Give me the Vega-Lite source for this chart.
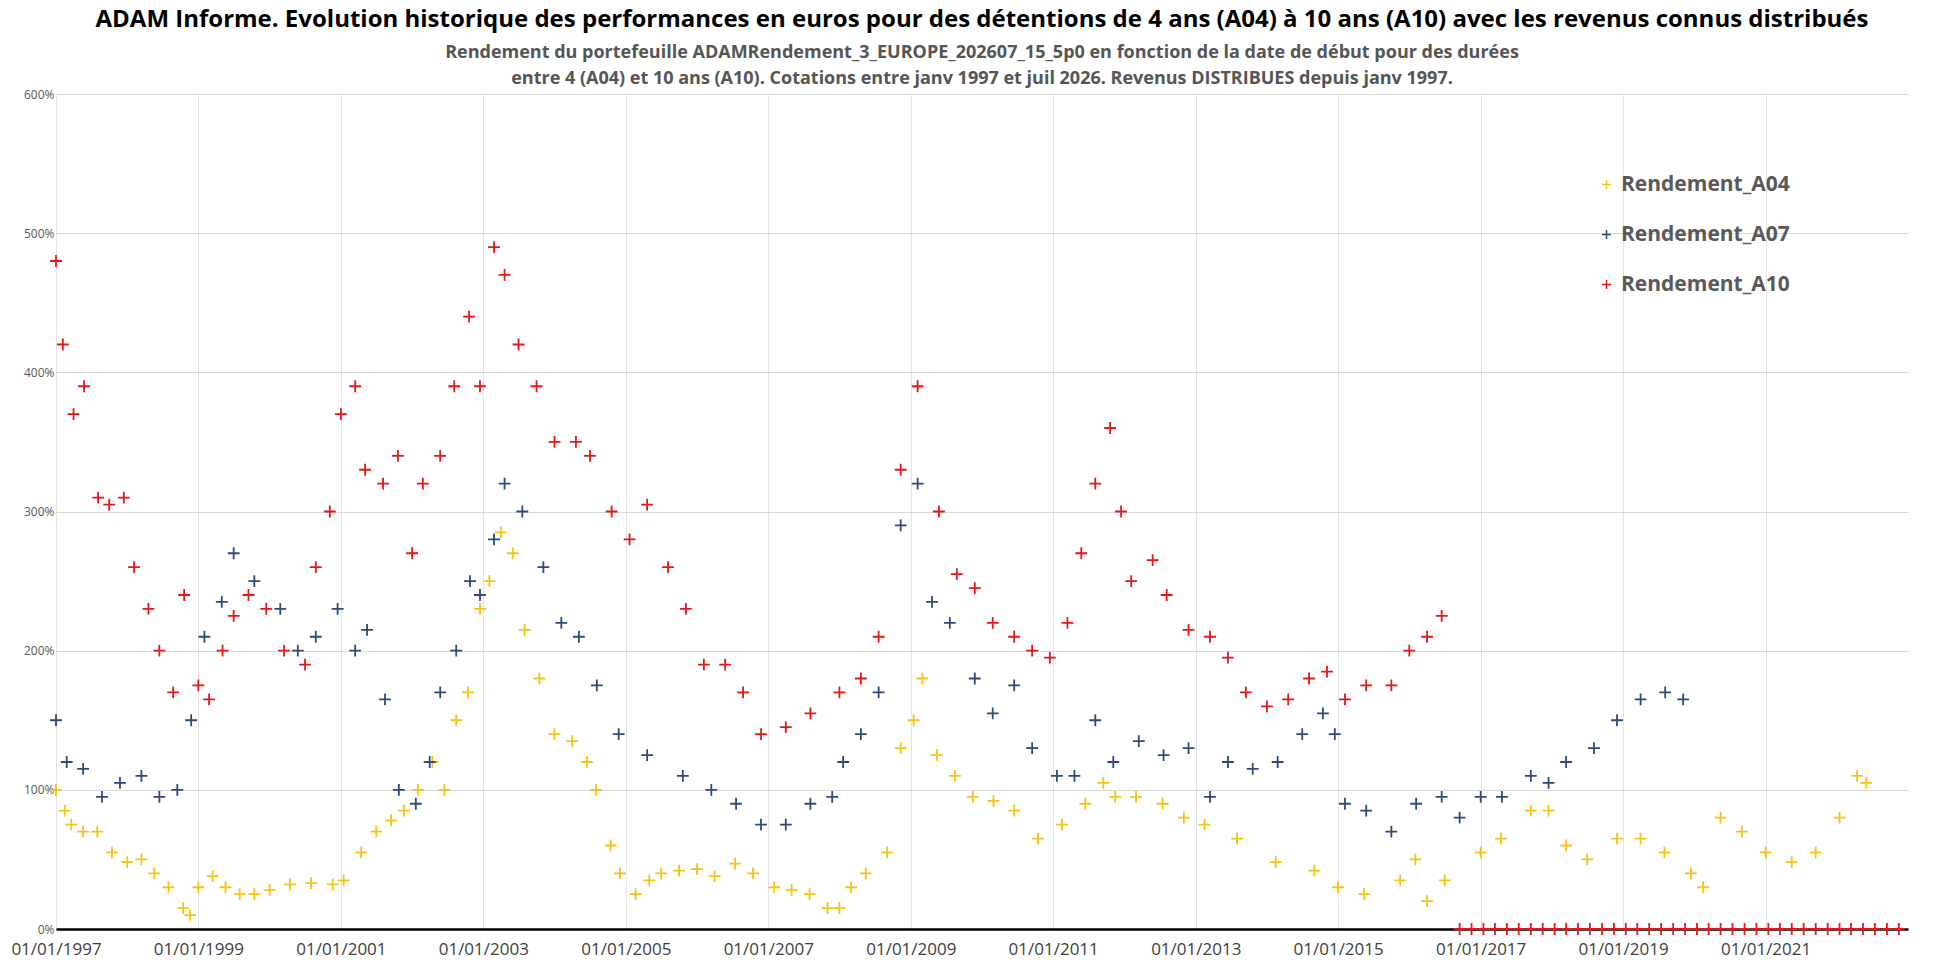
{
  "$schema": "https://vega.github.io/schema/vega-lite/v6.json",
  "width": 1958,
  "height": 979,
  "autosize": {"type": "fit", "contains": "padding"},
  "padding": {"left": 10, "top": 8, "right": 50, "bottom": 22},
  "background": "white",
  "title": {
    "text": "ADAM Informe. Evolution historique des performances en euros pour des détentions de 4 ans (A04) à 10 ans (A10) avec les revenus connus distribués",
    "subtitle": ["Rendement du portefeuille ADAMRendement_3_EUROPE_202607_15_5p0  en fonction de la date de début pour des durées", "entre 4 (A04) et 10 ans (A10). Cotations entre janv 1997 et juil 2026. Revenus DISTRIBUES depuis janv 1997."],
    "anchor": "middle",
    "font": "Open Sans",
    "fontSize": 24,
    "fontWeight": "bold",
    "color": "black",
    "subtitleFont": "Open Sans",
    "subtitleFontSize": 18,
    "subtitleFontWeight": "bold",
    "subtitleColor": "#555555",
    "subtitleLineHeight": 26,
    "subtitlePadding": 12,
    "offset": 0
  },
  "data": {
    "values": [
      {"d": "1997-01-01", "s": "Rendement_A04", "v": 100},
      {"d": "1997-02-15", "s": "Rendement_A04", "v": 85},
      {"d": "1997-03-20", "s": "Rendement_A04", "v": 75},
      {"d": "1997-05-20", "s": "Rendement_A04", "v": 70},
      {"d": "1997-08-01", "s": "Rendement_A04", "v": 70},
      {"d": "1997-10-15", "s": "Rendement_A04", "v": 55},
      {"d": "1998-01-01", "s": "Rendement_A04", "v": 48},
      {"d": "1998-03-15", "s": "Rendement_A04", "v": 50},
      {"d": "1998-05-20", "s": "Rendement_A04", "v": 40},
      {"d": "1998-08-01", "s": "Rendement_A04", "v": 30},
      {"d": "1998-10-15", "s": "Rendement_A04", "v": 15},
      {"d": "1998-11-20", "s": "Rendement_A04", "v": 10},
      {"d": "1999-01-01", "s": "Rendement_A04", "v": 30},
      {"d": "1999-03-15", "s": "Rendement_A04", "v": 38},
      {"d": "1999-05-20", "s": "Rendement_A04", "v": 30},
      {"d": "1999-08-01", "s": "Rendement_A04", "v": 25},
      {"d": "1999-10-15", "s": "Rendement_A04", "v": 25},
      {"d": "2000-01-01", "s": "Rendement_A04", "v": 28},
      {"d": "2000-04-15", "s": "Rendement_A04", "v": 32},
      {"d": "2000-08-01", "s": "Rendement_A04", "v": 33},
      {"d": "2000-11-20", "s": "Rendement_A04", "v": 32},
      {"d": "2001-01-15", "s": "Rendement_A04", "v": 35},
      {"d": "2001-04-15", "s": "Rendement_A04", "v": 55},
      {"d": "2001-07-01", "s": "Rendement_A04", "v": 70},
      {"d": "2001-09-15", "s": "Rendement_A04", "v": 78},
      {"d": "2001-11-20", "s": "Rendement_A04", "v": 85},
      {"d": "2002-02-01", "s": "Rendement_A04", "v": 100},
      {"d": "2002-04-15", "s": "Rendement_A04", "v": 120},
      {"d": "2002-06-15", "s": "Rendement_A04", "v": 100},
      {"d": "2002-08-15", "s": "Rendement_A04", "v": 150},
      {"d": "2002-10-15", "s": "Rendement_A04", "v": 170},
      {"d": "2002-12-15", "s": "Rendement_A04", "v": 230},
      {"d": "2003-02-01", "s": "Rendement_A04", "v": 250},
      {"d": "2003-04-01", "s": "Rendement_A04", "v": 285},
      {"d": "2003-06-01", "s": "Rendement_A04", "v": 270},
      {"d": "2003-08-01", "s": "Rendement_A04", "v": 215},
      {"d": "2003-10-15", "s": "Rendement_A04", "v": 180},
      {"d": "2004-01-01", "s": "Rendement_A04", "v": 140},
      {"d": "2004-04-01", "s": "Rendement_A04", "v": 135},
      {"d": "2004-06-15", "s": "Rendement_A04", "v": 120},
      {"d": "2004-08-01", "s": "Rendement_A04", "v": 100},
      {"d": "2004-10-15", "s": "Rendement_A04", "v": 60},
      {"d": "2004-12-01", "s": "Rendement_A04", "v": 40},
      {"d": "2005-02-20", "s": "Rendement_A04", "v": 25},
      {"d": "2005-05-01", "s": "Rendement_A04", "v": 35},
      {"d": "2005-07-01", "s": "Rendement_A04", "v": 40},
      {"d": "2005-10-01", "s": "Rendement_A04", "v": 42},
      {"d": "2006-01-01", "s": "Rendement_A04", "v": 43},
      {"d": "2006-04-01", "s": "Rendement_A04", "v": 38},
      {"d": "2006-07-15", "s": "Rendement_A04", "v": 47},
      {"d": "2006-10-15", "s": "Rendement_A04", "v": 40},
      {"d": "2007-02-01", "s": "Rendement_A04", "v": 30},
      {"d": "2007-05-01", "s": "Rendement_A04", "v": 28},
      {"d": "2007-08-01", "s": "Rendement_A04", "v": 25},
      {"d": "2007-11-01", "s": "Rendement_A04", "v": 15},
      {"d": "2008-01-01", "s": "Rendement_A04", "v": 15},
      {"d": "2008-03-01", "s": "Rendement_A04", "v": 30},
      {"d": "2008-05-15", "s": "Rendement_A04", "v": 40},
      {"d": "2008-09-01", "s": "Rendement_A04", "v": 55},
      {"d": "2008-11-10", "s": "Rendement_A04", "v": 130},
      {"d": "2009-01-15", "s": "Rendement_A04", "v": 150},
      {"d": "2009-03-01", "s": "Rendement_A04", "v": 180},
      {"d": "2009-05-15", "s": "Rendement_A04", "v": 125},
      {"d": "2009-08-15", "s": "Rendement_A04", "v": 110},
      {"d": "2009-11-15", "s": "Rendement_A04", "v": 95},
      {"d": "2010-03-01", "s": "Rendement_A04", "v": 92},
      {"d": "2010-06-15", "s": "Rendement_A04", "v": 85},
      {"d": "2010-10-15", "s": "Rendement_A04", "v": 65},
      {"d": "2011-02-15", "s": "Rendement_A04", "v": 75},
      {"d": "2011-06-15", "s": "Rendement_A04", "v": 90},
      {"d": "2011-09-15", "s": "Rendement_A04", "v": 105},
      {"d": "2011-11-15", "s": "Rendement_A04", "v": 95},
      {"d": "2012-03-01", "s": "Rendement_A04", "v": 95},
      {"d": "2012-07-15", "s": "Rendement_A04", "v": 90},
      {"d": "2012-11-01", "s": "Rendement_A04", "v": 80},
      {"d": "2013-02-15", "s": "Rendement_A04", "v": 75},
      {"d": "2013-08-01", "s": "Rendement_A04", "v": 65},
      {"d": "2014-02-15", "s": "Rendement_A04", "v": 48},
      {"d": "2014-09-01", "s": "Rendement_A04", "v": 42},
      {"d": "2015-01-01", "s": "Rendement_A04", "v": 30},
      {"d": "2015-05-15", "s": "Rendement_A04", "v": 25},
      {"d": "2015-11-15", "s": "Rendement_A04", "v": 35},
      {"d": "2016-02-01", "s": "Rendement_A04", "v": 50},
      {"d": "2016-04-01", "s": "Rendement_A04", "v": 20},
      {"d": "2016-07-01", "s": "Rendement_A04", "v": 35},
      {"d": "2017-01-01", "s": "Rendement_A04", "v": 55},
      {"d": "2017-04-15", "s": "Rendement_A04", "v": 65},
      {"d": "2017-09-15", "s": "Rendement_A04", "v": 85},
      {"d": "2017-12-15", "s": "Rendement_A04", "v": 85},
      {"d": "2018-03-15", "s": "Rendement_A04", "v": 60},
      {"d": "2018-07-01", "s": "Rendement_A04", "v": 50},
      {"d": "2018-12-01", "s": "Rendement_A04", "v": 65},
      {"d": "2019-04-01", "s": "Rendement_A04", "v": 65},
      {"d": "2019-08-01", "s": "Rendement_A04", "v": 55},
      {"d": "2019-12-15", "s": "Rendement_A04", "v": 40},
      {"d": "2020-02-15", "s": "Rendement_A04", "v": 30},
      {"d": "2020-05-15", "s": "Rendement_A04", "v": 80},
      {"d": "2020-09-01", "s": "Rendement_A04", "v": 70},
      {"d": "2021-01-01", "s": "Rendement_A04", "v": 55},
      {"d": "2021-05-15", "s": "Rendement_A04", "v": 48},
      {"d": "2021-09-15", "s": "Rendement_A04", "v": 55},
      {"d": "2022-01-15", "s": "Rendement_A04", "v": 80},
      {"d": "2022-04-15", "s": "Rendement_A04", "v": 110},
      {"d": "2022-06-01", "s": "Rendement_A04", "v": 105},

      {"d": "1997-01-01", "s": "Rendement_A07", "v": 150},
      {"d": "1997-02-25", "s": "Rendement_A07", "v": 120},
      {"d": "1997-05-20", "s": "Rendement_A07", "v": 115},
      {"d": "1997-08-25", "s": "Rendement_A07", "v": 95},
      {"d": "1997-11-25", "s": "Rendement_A07", "v": 105},
      {"d": "1998-03-15", "s": "Rendement_A07", "v": 110},
      {"d": "1998-06-15", "s": "Rendement_A07", "v": 95},
      {"d": "1998-09-15", "s": "Rendement_A07", "v": 100},
      {"d": "1998-11-25", "s": "Rendement_A07", "v": 150},
      {"d": "1999-02-01", "s": "Rendement_A07", "v": 210},
      {"d": "1999-05-01", "s": "Rendement_A07", "v": 235},
      {"d": "1999-07-01", "s": "Rendement_A07", "v": 270},
      {"d": "1999-10-15", "s": "Rendement_A07", "v": 250},
      {"d": "2000-02-25", "s": "Rendement_A07", "v": 230},
      {"d": "2000-05-25", "s": "Rendement_A07", "v": 200},
      {"d": "2000-08-25", "s": "Rendement_A07", "v": 210},
      {"d": "2000-12-15", "s": "Rendement_A07", "v": 230},
      {"d": "2001-03-15", "s": "Rendement_A07", "v": 200},
      {"d": "2001-05-15", "s": "Rendement_A07", "v": 215},
      {"d": "2001-08-15", "s": "Rendement_A07", "v": 165},
      {"d": "2001-10-25", "s": "Rendement_A07", "v": 100},
      {"d": "2002-01-20", "s": "Rendement_A07", "v": 90},
      {"d": "2002-04-01", "s": "Rendement_A07", "v": 120},
      {"d": "2002-05-25", "s": "Rendement_A07", "v": 170},
      {"d": "2002-08-15", "s": "Rendement_A07", "v": 200},
      {"d": "2002-10-25", "s": "Rendement_A07", "v": 250},
      {"d": "2002-12-15", "s": "Rendement_A07", "v": 240},
      {"d": "2003-02-25", "s": "Rendement_A07", "v": 280},
      {"d": "2003-04-20", "s": "Rendement_A07", "v": 320},
      {"d": "2003-07-20", "s": "Rendement_A07", "v": 300},
      {"d": "2003-11-05", "s": "Rendement_A07", "v": 260},
      {"d": "2004-02-05", "s": "Rendement_A07", "v": 220},
      {"d": "2004-05-05", "s": "Rendement_A07", "v": 210},
      {"d": "2004-08-05", "s": "Rendement_A07", "v": 175},
      {"d": "2004-11-25", "s": "Rendement_A07", "v": 140},
      {"d": "2005-04-20", "s": "Rendement_A07", "v": 125},
      {"d": "2005-10-20", "s": "Rendement_A07", "v": 110},
      {"d": "2006-03-15", "s": "Rendement_A07", "v": 100},
      {"d": "2006-07-20", "s": "Rendement_A07", "v": 90},
      {"d": "2006-11-25", "s": "Rendement_A07", "v": 75},
      {"d": "2007-04-01", "s": "Rendement_A07", "v": 75},
      {"d": "2007-08-05", "s": "Rendement_A07", "v": 90},
      {"d": "2007-11-25", "s": "Rendement_A07", "v": 95},
      {"d": "2008-01-20", "s": "Rendement_A07", "v": 120},
      {"d": "2008-04-20", "s": "Rendement_A07", "v": 140},
      {"d": "2008-07-20", "s": "Rendement_A07", "v": 170},
      {"d": "2008-11-10", "s": "Rendement_A07", "v": 290},
      {"d": "2009-02-05", "s": "Rendement_A07", "v": 320},
      {"d": "2009-04-20", "s": "Rendement_A07", "v": 235},
      {"d": "2009-07-20", "s": "Rendement_A07", "v": 220},
      {"d": "2009-11-25", "s": "Rendement_A07", "v": 180},
      {"d": "2010-02-25", "s": "Rendement_A07", "v": 155},
      {"d": "2010-06-15", "s": "Rendement_A07", "v": 175},
      {"d": "2010-09-15", "s": "Rendement_A07", "v": 130},
      {"d": "2011-01-20", "s": "Rendement_A07", "v": 110},
      {"d": "2011-04-20", "s": "Rendement_A07", "v": 110},
      {"d": "2011-08-05", "s": "Rendement_A07", "v": 150},
      {"d": "2011-11-05", "s": "Rendement_A07", "v": 120},
      {"d": "2012-03-15", "s": "Rendement_A07", "v": 135},
      {"d": "2012-07-20", "s": "Rendement_A07", "v": 125},
      {"d": "2012-11-25", "s": "Rendement_A07", "v": 130},
      {"d": "2013-03-15", "s": "Rendement_A07", "v": 95},
      {"d": "2013-06-15", "s": "Rendement_A07", "v": 120},
      {"d": "2013-10-20", "s": "Rendement_A07", "v": 115},
      {"d": "2014-02-25", "s": "Rendement_A07", "v": 120},
      {"d": "2014-07-01", "s": "Rendement_A07", "v": 140},
      {"d": "2014-10-15", "s": "Rendement_A07", "v": 155},
      {"d": "2014-12-15", "s": "Rendement_A07", "v": 140},
      {"d": "2015-02-05", "s": "Rendement_A07", "v": 90},
      {"d": "2015-05-25", "s": "Rendement_A07", "v": 85},
      {"d": "2015-10-01", "s": "Rendement_A07", "v": 70},
      {"d": "2016-02-05", "s": "Rendement_A07", "v": 90},
      {"d": "2016-06-15", "s": "Rendement_A07", "v": 95},
      {"d": "2016-09-15", "s": "Rendement_A07", "v": 80},
      {"d": "2017-01-01", "s": "Rendement_A07", "v": 95},
      {"d": "2017-04-20", "s": "Rendement_A07", "v": 95},
      {"d": "2017-09-15", "s": "Rendement_A07", "v": 110},
      {"d": "2017-12-15", "s": "Rendement_A07", "v": 105},
      {"d": "2018-03-15", "s": "Rendement_A07", "v": 120},
      {"d": "2018-08-05", "s": "Rendement_A07", "v": 130},
      {"d": "2018-12-01", "s": "Rendement_A07", "v": 150},
      {"d": "2019-04-01", "s": "Rendement_A07", "v": 165},
      {"d": "2019-08-05", "s": "Rendement_A07", "v": 170},
      {"d": "2019-11-05", "s": "Rendement_A07", "v": 165},

      {"d": "1997-01-01", "s": "Rendement_A10", "v": 480},
      {"d": "1997-02-05", "s": "Rendement_A10", "v": 420},
      {"d": "1997-04-01", "s": "Rendement_A10", "v": 370},
      {"d": "1997-05-25", "s": "Rendement_A10", "v": 390},
      {"d": "1997-08-05", "s": "Rendement_A10", "v": 310},
      {"d": "1997-10-01", "s": "Rendement_A10", "v": 305},
      {"d": "1997-12-15", "s": "Rendement_A10", "v": 310},
      {"d": "1998-02-05", "s": "Rendement_A10", "v": 260},
      {"d": "1998-04-20", "s": "Rendement_A10", "v": 230},
      {"d": "1998-06-15", "s": "Rendement_A10", "v": 200},
      {"d": "1998-08-25", "s": "Rendement_A10", "v": 170},
      {"d": "1998-10-20", "s": "Rendement_A10", "v": 240},
      {"d": "1999-01-01", "s": "Rendement_A10", "v": 175},
      {"d": "1999-02-25", "s": "Rendement_A10", "v": 165},
      {"d": "1999-05-05", "s": "Rendement_A10", "v": 200},
      {"d": "1999-07-01", "s": "Rendement_A10", "v": 225},
      {"d": "1999-09-15", "s": "Rendement_A10", "v": 240},
      {"d": "1999-12-15", "s": "Rendement_A10", "v": 230},
      {"d": "2000-03-15", "s": "Rendement_A10", "v": 200},
      {"d": "2000-07-01", "s": "Rendement_A10", "v": 190},
      {"d": "2000-08-25", "s": "Rendement_A10", "v": 260},
      {"d": "2000-11-05", "s": "Rendement_A10", "v": 300},
      {"d": "2001-01-01", "s": "Rendement_A10", "v": 370},
      {"d": "2001-03-15", "s": "Rendement_A10", "v": 390},
      {"d": "2001-05-05", "s": "Rendement_A10", "v": 330},
      {"d": "2001-08-05", "s": "Rendement_A10", "v": 320},
      {"d": "2001-10-20", "s": "Rendement_A10", "v": 340},
      {"d": "2002-01-01", "s": "Rendement_A10", "v": 270},
      {"d": "2002-02-25", "s": "Rendement_A10", "v": 320},
      {"d": "2002-05-25", "s": "Rendement_A10", "v": 340},
      {"d": "2002-08-05", "s": "Rendement_A10", "v": 390},
      {"d": "2002-10-20", "s": "Rendement_A10", "v": 440},
      {"d": "2002-12-15", "s": "Rendement_A10", "v": 390},
      {"d": "2003-02-25", "s": "Rendement_A10", "v": 490},
      {"d": "2003-04-20", "s": "Rendement_A10", "v": 470},
      {"d": "2003-07-01", "s": "Rendement_A10", "v": 420},
      {"d": "2003-10-01", "s": "Rendement_A10", "v": 390},
      {"d": "2004-01-01", "s": "Rendement_A10", "v": 350},
      {"d": "2004-04-20", "s": "Rendement_A10", "v": 350},
      {"d": "2004-07-01", "s": "Rendement_A10", "v": 340},
      {"d": "2004-10-20", "s": "Rendement_A10", "v": 300},
      {"d": "2005-01-20", "s": "Rendement_A10", "v": 280},
      {"d": "2005-04-20", "s": "Rendement_A10", "v": 305},
      {"d": "2005-08-05", "s": "Rendement_A10", "v": 260},
      {"d": "2005-11-05", "s": "Rendement_A10", "v": 230},
      {"d": "2006-02-05", "s": "Rendement_A10", "v": 190},
      {"d": "2006-05-25", "s": "Rendement_A10", "v": 190},
      {"d": "2006-08-25", "s": "Rendement_A10", "v": 170},
      {"d": "2006-11-25", "s": "Rendement_A10", "v": 140},
      {"d": "2007-04-01", "s": "Rendement_A10", "v": 145},
      {"d": "2007-08-05", "s": "Rendement_A10", "v": 155},
      {"d": "2008-01-01", "s": "Rendement_A10", "v": 170},
      {"d": "2008-04-20", "s": "Rendement_A10", "v": 180},
      {"d": "2008-07-20", "s": "Rendement_A10", "v": 210},
      {"d": "2008-11-10", "s": "Rendement_A10", "v": 330},
      {"d": "2009-02-05", "s": "Rendement_A10", "v": 390},
      {"d": "2009-05-25", "s": "Rendement_A10", "v": 300},
      {"d": "2009-08-25", "s": "Rendement_A10", "v": 255},
      {"d": "2009-11-25", "s": "Rendement_A10", "v": 245},
      {"d": "2010-02-25", "s": "Rendement_A10", "v": 220},
      {"d": "2010-06-15", "s": "Rendement_A10", "v": 210},
      {"d": "2010-09-15", "s": "Rendement_A10", "v": 200},
      {"d": "2010-12-15", "s": "Rendement_A10", "v": 195},
      {"d": "2011-03-15", "s": "Rendement_A10", "v": 220},
      {"d": "2011-05-25", "s": "Rendement_A10", "v": 270},
      {"d": "2011-08-05", "s": "Rendement_A10", "v": 320},
      {"d": "2011-10-20", "s": "Rendement_A10", "v": 360},
      {"d": "2011-12-15", "s": "Rendement_A10", "v": 300},
      {"d": "2012-02-05", "s": "Rendement_A10", "v": 250},
      {"d": "2012-05-25", "s": "Rendement_A10", "v": 265},
      {"d": "2012-08-05", "s": "Rendement_A10", "v": 240},
      {"d": "2012-11-25", "s": "Rendement_A10", "v": 215},
      {"d": "2013-03-15", "s": "Rendement_A10", "v": 210},
      {"d": "2013-06-15", "s": "Rendement_A10", "v": 195},
      {"d": "2013-09-15", "s": "Rendement_A10", "v": 170},
      {"d": "2014-01-01", "s": "Rendement_A10", "v": 160},
      {"d": "2014-04-20", "s": "Rendement_A10", "v": 165},
      {"d": "2014-08-05", "s": "Rendement_A10", "v": 180},
      {"d": "2014-11-05", "s": "Rendement_A10", "v": 185},
      {"d": "2015-02-05", "s": "Rendement_A10", "v": 165},
      {"d": "2015-05-25", "s": "Rendement_A10", "v": 175},
      {"d": "2015-10-01", "s": "Rendement_A10", "v": 175},
      {"d": "2016-01-01", "s": "Rendement_A10", "v": 200},
      {"d": "2016-04-01", "s": "Rendement_A10", "v": 210},
      {"d": "2016-06-15", "s": "Rendement_A10", "v": 225},
      {"d": "2016-09-15", "s": "Rendement_A10", "v": 0},
      {"d": "2016-11-15", "s": "Rendement_A10", "v": 0},
      {"d": "2017-01-15", "s": "Rendement_A10", "v": 0},
      {"d": "2017-03-15", "s": "Rendement_A10", "v": 0},
      {"d": "2017-05-15", "s": "Rendement_A10", "v": 0},
      {"d": "2017-07-15", "s": "Rendement_A10", "v": 0},
      {"d": "2017-09-15", "s": "Rendement_A10", "v": 0},
      {"d": "2017-11-15", "s": "Rendement_A10", "v": 0},
      {"d": "2018-01-15", "s": "Rendement_A10", "v": 0},
      {"d": "2018-03-15", "s": "Rendement_A10", "v": 0},
      {"d": "2018-05-15", "s": "Rendement_A10", "v": 0},
      {"d": "2018-07-15", "s": "Rendement_A10", "v": 0},
      {"d": "2018-09-15", "s": "Rendement_A10", "v": 0},
      {"d": "2018-11-15", "s": "Rendement_A10", "v": 0},
      {"d": "2019-01-15", "s": "Rendement_A10", "v": 0},
      {"d": "2019-03-15", "s": "Rendement_A10", "v": 0},
      {"d": "2019-05-15", "s": "Rendement_A10", "v": 0},
      {"d": "2019-07-15", "s": "Rendement_A10", "v": 0},
      {"d": "2019-09-15", "s": "Rendement_A10", "v": 0},
      {"d": "2019-11-15", "s": "Rendement_A10", "v": 0},
      {"d": "2020-01-15", "s": "Rendement_A10", "v": 0},
      {"d": "2020-03-15", "s": "Rendement_A10", "v": 0},
      {"d": "2020-05-15", "s": "Rendement_A10", "v": 0},
      {"d": "2020-07-15", "s": "Rendement_A10", "v": 0},
      {"d": "2020-09-15", "s": "Rendement_A10", "v": 0},
      {"d": "2020-11-15", "s": "Rendement_A10", "v": 0},
      {"d": "2021-01-15", "s": "Rendement_A10", "v": 0},
      {"d": "2021-03-15", "s": "Rendement_A10", "v": 0},
      {"d": "2021-05-15", "s": "Rendement_A10", "v": 0},
      {"d": "2021-07-15", "s": "Rendement_A10", "v": 0},
      {"d": "2021-09-15", "s": "Rendement_A10", "v": 0},
      {"d": "2021-11-15", "s": "Rendement_A10", "v": 0},
      {"d": "2022-01-15", "s": "Rendement_A10", "v": 0},
      {"d": "2022-03-15", "s": "Rendement_A10", "v": 0},
      {"d": "2022-05-15", "s": "Rendement_A10", "v": 0},
      {"d": "2022-07-15", "s": "Rendement_A10", "v": 0},
      {"d": "2022-09-15", "s": "Rendement_A10", "v": 0},
      {"d": "2022-11-15", "s": "Rendement_A10", "v": 0}
    ]
  },
  "mark": {"type": "point", "shape": "M-1,0L1,0M0,-1L0,1", "filled": false, "strokeWidth": 1.8, "size": 140, "opacity": 1},
  "encoding": {
    "x": {
      "field": "d",
      "type": "temporal",
      "scale": {"domain": ["1997-01-01", "2023-01-01"]},
      "axis": {
        "title": null,
        "format": "%d/%m/%Y",
        "values": ["1997-01-01", "1999-01-01", "2001-01-01", "2003-01-01", "2005-01-01", "2007-01-01", "2009-01-01", "2011-01-01", "2013-01-01", "2015-01-01", "2017-01-01", "2019-01-01", "2021-01-01"],
        "labelFont": "Open Sans",
        "labelFontSize": 17,
        "labelFontWeight": "normal",
        "labelColor": "#404040",
        "labelFlush": false,
        "labelPadding": 12,
        "domainColor": "black",
        "domainWidth": 2.5,
        "ticks": false,
        "grid": true,
        "gridColor": "#e4e4e4"
      }
    },
    "y": {
      "field": "v",
      "type": "quantitative",
      "scale": {"domain": [0, 600]},
      "axis": {
        "title": null,
        "values": [0, 100, 200, 300, 400, 500, 600],
        "labelExpr": "datum.value + '%'",
        "labelFont": "Open Sans",
        "labelFontSize": 12,
        "labelColor": "#595959",
        "domain": false,
        "ticks": false,
        "gridColor": "#d9d9d9"
      }
    },
    "color": {
      "field": "s",
      "type": "nominal",
      "scale": {"domain": ["Rendement_A04", "Rendement_A07", "Rendement_A10"], "range": ["#f5c316", "#2f4a78", "#e8151b"]},
      "legend": {
        "title": null,
        "orient": "none",
        "legendX": 1540,
        "legendY": 80,
        "labelFont": "Open Sans",
        "labelFontSize": 21,
        "labelFontWeight": "bold",
        "labelColor": "#595959",
        "labelLimit": 400,
        "rowPadding": 28,
        "symbolSize": 80,
        "symbolStrokeWidth": 1.5
      }
    }
  },
  "config": {"view": {"stroke": null}}
}
